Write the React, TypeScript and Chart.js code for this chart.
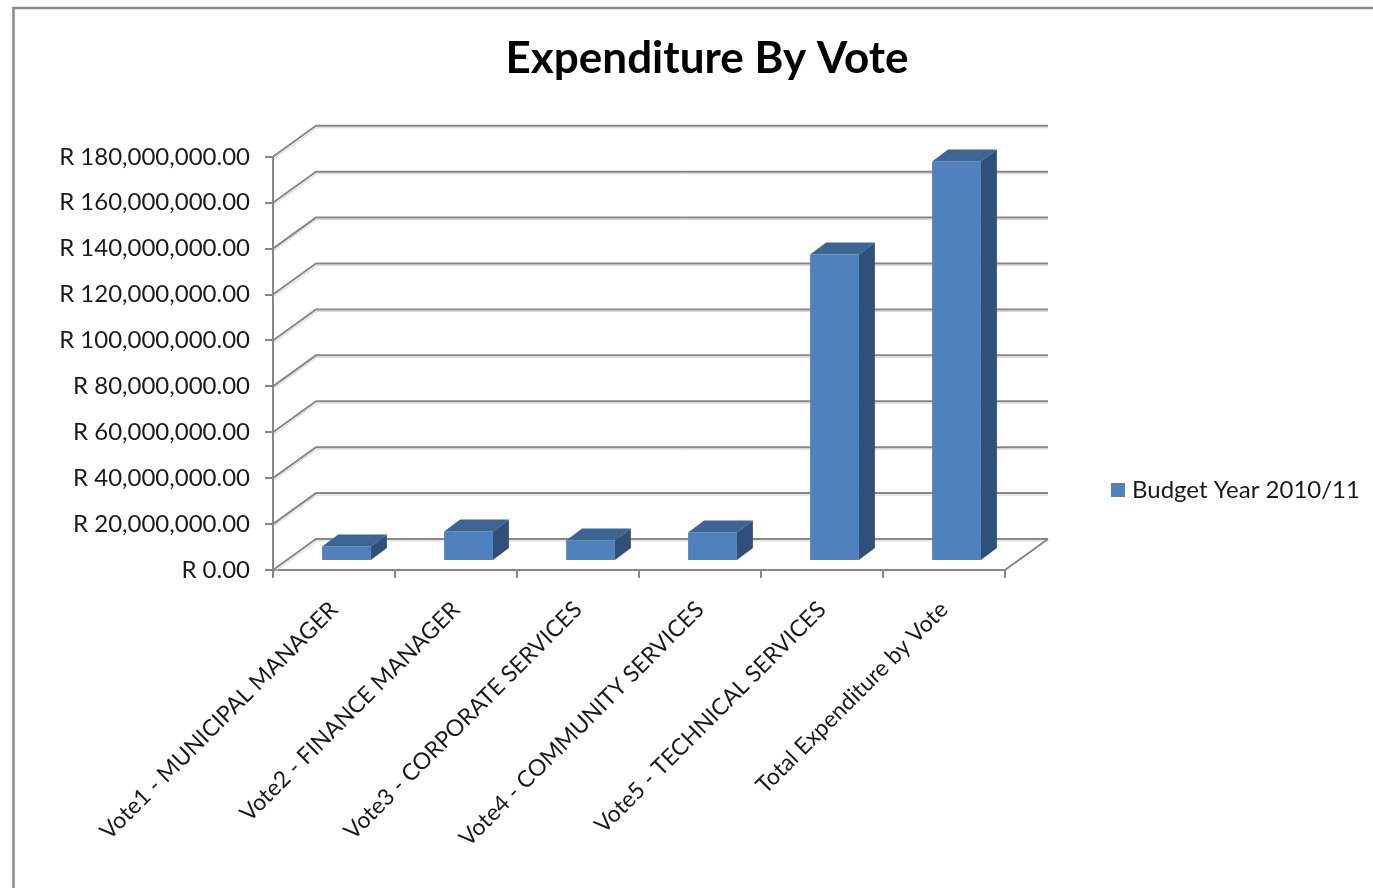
import { useEffect, useRef } from "react";
import { Chart, registerables } from "chart.js";

Chart.register(...registerables);

const chartTitle = "Expenditure By Vote";
const categories = [
  "Vote1 - MUNICIPAL MANAGER",
  "Vote2 - FINANCE MANAGER",
  "Vote3 - CORPORATE SERVICES",
  "Vote4 - COMMUNITY SERVICES",
  "Vote5 - TECHNICAL SERVICES",
  "Total Expenditure by Vote",
];
const seriesLabel = "Budget Year 2010/11";
const budgetValues = [6300000, 12900000, 8900000, 12400000, 133500000, 174000000];
const yMin = 0;
const yMax = 180000000;
const yStep = 20000000;

const FONT = "Lato, 'Noto Sans', sans-serif";
const GRID = "#878787";
const FRONT = "#4F81BD";
const TOP = "#3D6594";
const SIDE = "#2F5079";

// 3-D geometry (style only)
const WALL_DX = 43;
const WALL_DY = -31;
const BAR_DX = 12.5;
const BAR_DY = -9;
const DEPTH_DX = 16;
const DEPTH_DY = -12;

const formatRand = (v: number) =>
  "R " +
  Number(v).toLocaleString("en-US", {
    minimumFractionDigits: 2,
    maximumFractionDigits: 2,
  });

const frame3d = {
  id: "frame3d",
  beforeDraw(chart: any) {
    const { ctx } = chart;
    ctx.save();
    ctx.fillStyle = "#fff";
    ctx.fillRect(0, 0, chart.width, chart.height);
    ctx.strokeStyle = "#8a8a8a";
    ctx.lineWidth = 2.5;
    ctx.beginPath();
    ctx.moveTo(13.5, chart.height + 5);
    ctx.lineTo(13.5, 8);
    ctx.lineTo(chart.width + 5, 8);
    ctx.stroke();
    ctx.restore();
  },
  beforeDatasetsDraw(chart: any) {
    const { ctx, chartArea } = chart;
    const ys = chart.scales.y;
    const { left, right, bottom } = chartArea;
    ctx.save();
    ctx.lineCap = "butt";
    const ticks = ys.ticks.map((t: any) => t.value);
    for (const v of ticks) {
      const y = ys.getPixelForValue(v);
      ctx.strokeStyle = "#d4d4d4";
      ctx.lineWidth = 1;
      ctx.beginPath();
      ctx.moveTo(left + 1, y + 2);
      ctx.lineTo(left + WALL_DX + 1, y + WALL_DY + 2);
      ctx.lineTo(right + WALL_DX, y + WALL_DY + 2);
      ctx.stroke();
      ctx.strokeStyle = GRID;
      ctx.lineWidth = 2;
      ctx.beginPath();
      ctx.moveTo(left, y);
      ctx.lineTo(left + WALL_DX, y + WALL_DY);
      ctx.lineTo(right + WALL_DX, y + WALL_DY);
      ctx.stroke();
    }
    ctx.strokeStyle = GRID;
    ctx.lineWidth = 2;
    ctx.beginPath();
    ctx.moveTo(right, bottom);
    ctx.lineTo(right + WALL_DX, bottom + WALL_DY);
    ctx.stroke();
    ctx.restore();
    ctx.save();
    ctx.translate(BAR_DX, BAR_DY);
  },
  afterDatasetsDraw(chart: any) {
    const { ctx } = chart;
    ctx.restore();
    ctx.save();
    const meta = chart.getDatasetMeta(0);
    meta.data.forEach((el: any) => {
      const { x, y, base, width } = el.getProps(["x", "y", "base", "width"], true);
      const l = x - width / 2 + BAR_DX;
      const r = x + width / 2 + BAR_DX;
      const t = y + BAR_DY;
      const b = base + BAR_DY;
      ctx.fillStyle = TOP;
      ctx.beginPath();
      ctx.moveTo(l, t);
      ctx.lineTo(r, t);
      ctx.lineTo(r + DEPTH_DX, t + DEPTH_DY);
      ctx.lineTo(l + DEPTH_DX, t + DEPTH_DY);
      ctx.closePath();
      ctx.fill();
      ctx.fillStyle = SIDE;
      ctx.beginPath();
      ctx.moveTo(r, t);
      ctx.lineTo(r + DEPTH_DX, t + DEPTH_DY);
      ctx.lineTo(r + DEPTH_DX, b + DEPTH_DY);
      ctx.lineTo(r, b);
      ctx.closePath();
      ctx.fill();
    });
    ctx.restore();
  },
  afterDraw(chart: any) {
    const { ctx, chartArea } = chart;
    const ds = chart.data.datasets[0];
    const lx = chartArea.right + 106;
    const ly = 490;
    ctx.save();
    ctx.fillStyle = ds.backgroundColor;
    ctx.fillRect(lx, ly - 7, 14, 14);
    ctx.fillStyle = "#1a1a1a";
    ctx.font = `24px ${FONT}`;
    ctx.textBaseline = "middle";
    ctx.textAlign = "left";
    ctx.fillText(ds.label, lx + 21, ly);
    ctx.restore();
  },
};

export default function App() {
  const ref = useRef<HTMLCanvasElement>(null);

  useEffect(() => {
    if (!ref.current) return;
    const chart = new Chart(ref.current, {
      type: "bar",
      data: {
        labels: categories,
        datasets: [
          {
            label: seriesLabel,
            data: budgetValues,
            backgroundColor: FRONT,
            borderWidth: 0,
            barPercentage: 0.4,
            categoryPercentage: 1,
            clip: false as any,
          },
        ],
      },
      options: {
        responsive: false,
        animation: false,
        layout: { padding: { left: 41, right: 0, top: 0, bottom: 0 } },
        plugins: {
          legend: { display: false },
          tooltip: { enabled: false },
          title: {
            display: true,
            text: chartTitle,
            color: "#000",
            font: { family: FONT, size: 44, weight: "bold" },
            padding: { top: 32, bottom: 72 },
          },
        },
        scales: {
          x: {
            type: "category",
            offset: true,
            grid: {
              offset: true,
              drawOnChartArea: false,
              drawTicks: true,
              tickLength: 8,
              color: GRID,
              lineWidth: 2,
            },
            border: { display: true, color: GRID, width: 2 },
            ticks: {
              autoSkip: false,
              maxRotation: 45,
              minRotation: 45,
              padding: 18,
              color: "#1a1a1a",
              font: { family: FONT, size: 23 },
            },
            afterFit: (s: any) => {
              s.height = 318;
            },
          },
          y: {
            min: yMin,
            max: yMax,
            grid: {
              drawOnChartArea: false,
              drawTicks: true,
              tickLength: 8,
              color: GRID,
              lineWidth: 2,
            },
            border: { display: true, color: GRID, width: 2 },
            ticks: {
              stepSize: yStep,
              padding: 15,
              color: "#1a1a1a",
              font: { family: FONT, size: 24 },
              callback: (v: any) => formatRand(v),
            },
            afterFit: (s: any) => {
              s.width = 232;
            },
          },
          spacer: {
            type: "linear",
            position: "right",
            display: true,
            grid: { display: false, drawTicks: false },
            border: { display: false },
            ticks: { display: false },
            afterFit: (s: any) => {
              s.width = 368;
            },
          },
        },
      },
      plugins: [frame3d],
    });
    return () => chart.destroy();
  }, []);

  return (
    <div
      style={{
        position: "fixed",
        left: 0,
        top: 0,
        width: 1373,
        height: 888,
        background: "#fff",
      }}
    >
      <canvas ref={ref} width={1373} height={888} />
    </div>
  );
}
